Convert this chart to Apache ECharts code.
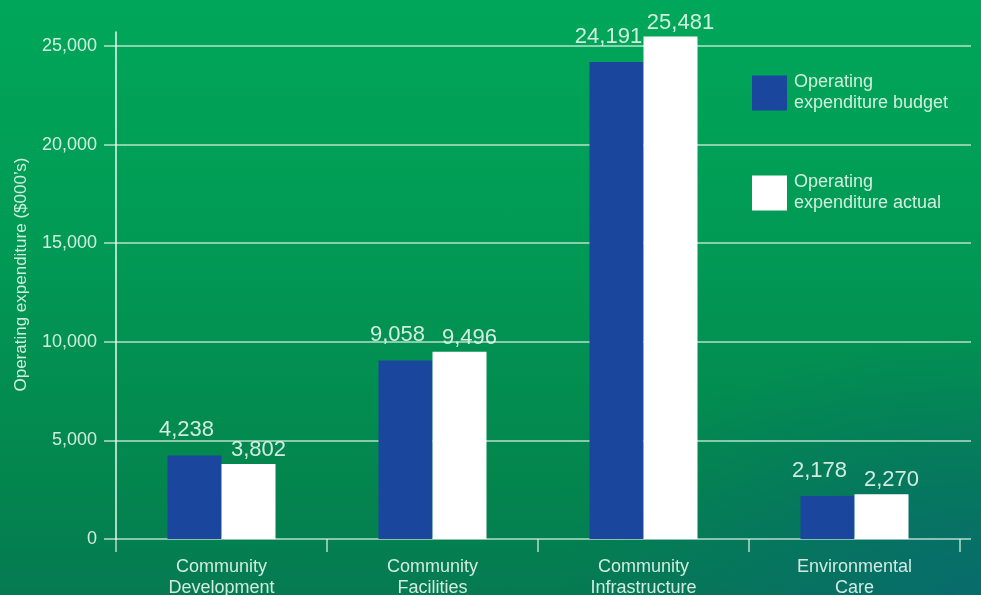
<!DOCTYPE html>
<html>
<head>
<meta charset="utf-8">
<style>
  html, body { margin: 0; padding: 0; }
  body {
    width: 981px; height: 595px; overflow: hidden;
    background:
      radial-gradient(ellipse 420px 260px at 100% 100%, rgba(8, 105, 112, 0.85), rgba(8, 105, 112, 0) 100%),
      linear-gradient(to bottom, #00a759 0%, #019a55 40%, #03864e 80%, #057a52 100%);
  }
  #chart { width: 981px; height: 595px; }
</style>
<script src="https://cdn.jsdelivr.net/npm/echarts@6/dist/echarts.min.js"></script>
</head>
<body>
<div id="chart"></div>
<script>
const categories = ['Community\nDevelopment', 'Community\nFacilities', 'Community\nInfrastructure', 'Environmental\nCare'];
const budget = [4238, 9058, 24191, 2178];
const actual = [3802, 9496, 25481, 2270];
const seriesNames = ['Operating expenditure budget', 'Operating expenditure actual'];
const yTicks = [0, 5000, 10000, 15000, 20000, 25000];

const textColor = 'rgba(232, 247, 238, 0.9)';
const lineColor = 'rgba(225, 245, 232, 0.8)';
const font = '"Liberation Sans", Arial, sans-serif';

const chart = echarts.init(document.getElementById('chart'));

const fmt = v => v.toLocaleString('en-US');

chart.setOption({
  backgroundColor: 'transparent',
  textStyle: { fontFamily: font },
  legend: {
    orient: 'vertical',
    left: 752,
    top: 72,
    padding: 0,
    itemWidth: 35,
    itemHeight: 35,
    itemGap: 58,
    icon: 'rect',
    data: seriesNames,
    formatter: name => name.replace('Operating ', 'Operating\n'),
    textStyle: { color: textColor, fontSize: 18, lineHeight: 21, fontFamily: font, padding: [0, 0, 0, 2] }
  },
  grid: [
    // bars
    { left: 116, right: 21, top: 32, bottom: 56, outerBoundsMode: 'none', containLabel: false },
    // gridlines + tick labels
    { left: 104, right: 10, top: 46, bottom: 56, outerBoundsMode: 'none', containLabel: false }
  ],
  xAxis: [
    {
      type: 'category',
      gridIndex: 0,
      data: categories,
      axisLine: { show: false },
      axisTick: { show: true, interval: 0, length: 13, lineStyle: { color: lineColor, width: 1.5 } },
      axisLabel: { color: textColor, fontSize: 18, lineHeight: 21, margin: 18, interval: 0, fontFamily: font }
    },
    { type: 'value', gridIndex: 1, show: false, min: 0, max: 1 }
  ],
  yAxis: [
    {
      type: 'value',
      gridIndex: 0,
      min: 0,
      max: 25710,
      axisLine: { show: true, lineStyle: { color: 'rgba(245,252,248,0.95)', width: 1.5 } },
      axisTick: { show: false },
      axisLabel: { show: false },
      splitLine: { show: false },
      name: 'Operating expenditure ($000\u2019s)',
      nameLocation: 'middle',
      nameGap: 86,
      nameRotate: 90,
      nameTextStyle: { color: textColor, fontSize: 17, fontFamily: font, padding: [0, 0, 0, 22] }
    },
    {
      type: 'value',
      gridIndex: 1,
      min: yTicks[0],
      max: yTicks[yTicks.length - 1],
      interval: 5000,
      axisLine: { show: false },
      axisTick: { show: false },
      axisLabel: { color: textColor, fontSize: 18, margin: 7, formatter: v => fmt(v), fontFamily: font },
      splitLine: { show: true, lineStyle: { color: lineColor, width: 1.5 } }
    }
  ],
  series: [
    {
      name: seriesNames[0],
      type: 'bar',
      xAxisIndex: 0,
      yAxisIndex: 0,
      data: budget,
      barWidth: 54,
      barGap: '0%',
      itemStyle: { color: '#1a479d' },
      z: 5,
      label: {
        show: true, position: 'top', distance: 14, offset: [-8, 0],
        color: textColor, fontSize: 22, fontFamily: font, formatter: p => fmt(p.value)
      }
    },
    {
      name: seriesNames[1],
      type: 'bar',
      xAxisIndex: 0,
      yAxisIndex: 0,
      data: actual,
      barWidth: 54,
      barGap: '0%',
      itemStyle: { color: '#ffffff' },
      z: 5,
      label: {
        show: true, position: 'top', distance: 3, offset: [10, 0],
        color: textColor, fontSize: 22, fontFamily: font, formatter: p => fmt(p.value)
      }
    }
  ]
});
</script>
</body>
</html>
